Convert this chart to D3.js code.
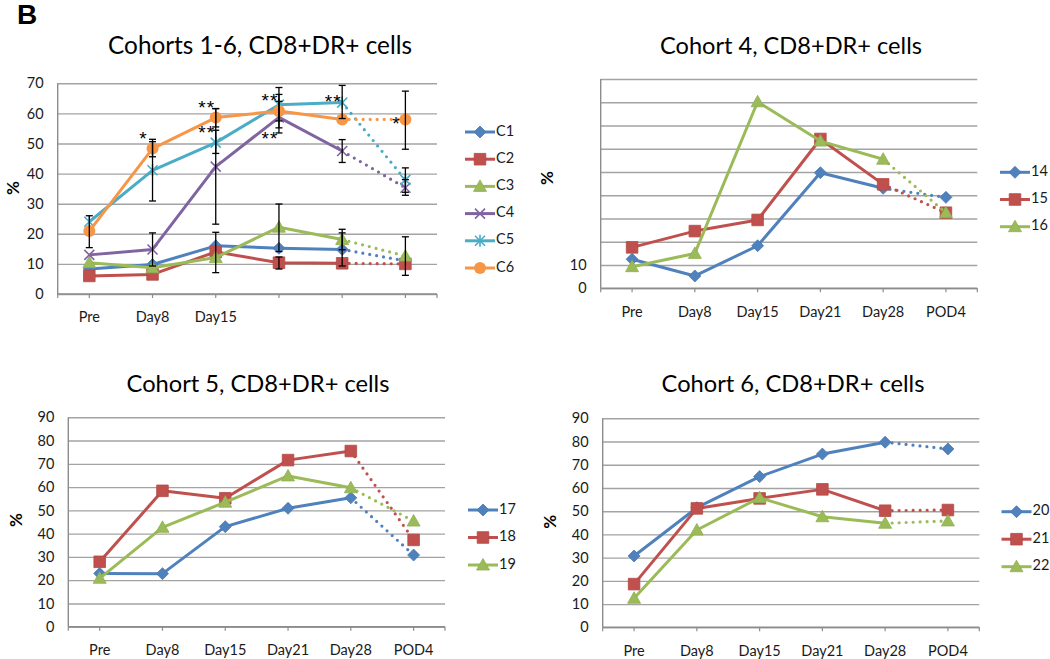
<!DOCTYPE html>
<html>
<head>
<meta charset="utf-8">
<script src="https://cdn.jsdelivr.net/npm/d3@7"></script>
<style>
  html, body { margin: 0; padding: 0; background: #fff; }
  svg { display: block; font-family: Lato, "Open Sans", sans-serif; }
</style>
</head>
<body>
<svg id="chart" width="1050" height="659"></svg>
<script>
// ---------------- data ----------------
const categories = ["Pre", "Day8", "Day15", "Day21", "Day28", "POD4"];
const panel1AxisLabels = ["Pre", "Day8", "Day15", "", "", ""];

// Cohorts 1-6 (group means)
const c1 = [8.3, 9.8, 16.0, 15.2, 14.8, 11.0];
const c2 = [6.0, 6.5, 14.0, 10.4, 10.2, 10.0];
const c3 = [10.4, 8.7, 12.1, 22.2, 18.1, 12.6];
const c4 = [13.0, 14.8, 42.3, 58.7, 47.5, 35.3];
const c5 = [24.0, 41.1, 50.3, 62.9, 63.6, 37.9];
const c6 = [20.9, 48.3, 58.6, 60.8, 58.0, 58.0];
const c1to6Names = ["C1", "C2", "C3", "C4", "C5", "C6"];

// error bars: [category index, low, high]
const errorBars = [
  [0, 15.4, 26.0],
  [1, 30.9, 51.4], [1, 45.6, 50.6], [1, 9.3, 20.3],
  [2, 23.2, 61.6], [2, 46.7, 54.4], [2, 55.5, 61.6], [2, 7.1, 20.5],
  [3, 57.5, 68.6], [3, 53.5, 64.0], [3, 55.2, 66.3], [3, 14.1, 29.9], [3, 8.3, 12.3],
  [4, 58.3, 69.3], [4, 43.7, 51.3], [4, 14.7, 21.5], [4, 9.3, 20.3],
  [5, 48.1, 67.4], [5, 33.8, 41.9], [5, 32.8, 38.0], [5, 6.2, 19.0]
];
// significance marks: [category index, value level, text]
const starMarks = [
  [1, 53.1, "*"],
  [2, 63.5, "**"], [2, 55.0, "**"],
  [3, 65.7, "**"], [3, 53.1, "**"],
  [4, 65.3, "**"],
  [5, 58.0, "*"]
];

// Cohort 4
const p14 = [12.5, 5.3, 18.3, 49.7, 43.0, 39.1];
const p15 = [17.6, 24.6, 29.4, 64.2, 44.7, 32.5];
const p16 = [9.3, 15.0, 80.2, 63.3, 55.5, 32.5];
const cohort4Names = ["14", "15", "16"];
const cohort4TickLabels = ["0", "10"];

// Cohort 5
const p17 = [22.9, 22.8, 43.0, 50.9, 55.4, 30.8];
const p18 = [27.9, 58.4, 55.2, 71.6, 75.5, 37.3];
const p19 = [20.8, 42.7, 53.5, 64.8, 59.7, 45.4];
const cohort5Names = ["17", "18", "19"];

// Cohort 6
const p20 = [30.7, 51.5, 64.9, 74.6, 79.7, 76.8];
const p21 = [18.6, 51.2, 55.5, 59.4, 50.2, 50.5];
const p22 = [12.5, 41.9, 55.8, 47.6, 44.8, 45.8];
const cohort6Names = ["20", "21", "22"];

const titles = [
  "Cohorts 1-6, CD8+DR+ cells",
  "Cohort 4, CD8+DR+ cells",
  "Cohort 5, CD8+DR+ cells",
  "Cohort 6, CD8+DR+ cells"
];

// ---------------- style ----------------
const COLORS = {
  blue: "#4F81BD", red: "#C0504D", green: "#9BBB59",
  purple: "#8064A2", teal: "#4BACC6", orange: "#F79646"
};
const GRID = "#a3a3a3";
const AXIS = "#8c8c8c";
const TEXT = "#1a1a1a";

const svg = d3.select("#chart");

// "B" panel label
svg.append("text").attr("x", 17).attr("y", 24)
  .attr("font-family", "Liberation Sans, Arial, sans-serif")
  .attr("font-weight", "bold").attr("font-size", 28).attr("fill", "#000")
  .text("B");

function markerPath(g, type, color) {
  switch (type) {
    case "diamond":
      g.append("path").attr("d", "M0,-6L6,0L0,6L-6,0Z").attr("fill", color)
        .attr("stroke", d3.color(color).darker(0.2)).attr("stroke-width", 0.8);
      break;
    case "square":
      g.append("path").attr("d", "M-5.8,-5.8H5.8V5.8H-5.8Z").attr("fill", color)
        .attr("stroke", d3.color(color).darker(0.2)).attr("stroke-width", 0.8);
      break;
    case "triangle":
      g.append("path").attr("d", "M0,-6.5L6.5,5L-6.5,5Z").attr("fill", color)
        .attr("stroke", d3.color(color).darker(0.2)).attr("stroke-width", 0.8);
      break;
    case "circle":
      g.append("circle").attr("r", 6).attr("fill", color);
      break;
    case "x":
      g.append("path").attr("d", "M-5,-5L5,5M-5,5L5,-5").attr("stroke", color)
        .attr("stroke-width", 1.6).attr("fill", "none");
      break;
    case "asterisk":
      g.append("path").attr("d", "M-5,-5L5,5M-5,5L5,-5M0,-6V6").attr("stroke", color)
        .attr("stroke-width", 1.6).attr("fill", "none");
      break;
  }
}

function fitFont(textSel, baseSize, targetWidth) {
  textSel.attr("font-size", baseSize);
  const w = textSel.node().getComputedTextLength();
  textSel.attr("font-size", baseSize * targetWidth / w);
}

function drawPanel(cfg) {
  const g = svg.append("g");
  const x = d3.scaleBand().domain(categories).range([cfg.left, cfg.right]);
  const cx = c => x(c) + x.bandwidth() / 2;
  const y = d3.scaleLinear().domain([0, cfg.max]).range([cfg.bottom, cfg.top]);

  // title
  const t = g.append("text").attr("x", cfg.titleX).attr("y", cfg.titleY)
    .attr("text-anchor", "middle").attr("fill", "#000").text(cfg.title);
  fitFont(t, 26, cfg.titleW);

  // y axis with gridlines
  const yAxis = d3.axisLeft(y)
    .tickValues(d3.range(0, cfg.max + 1, 10))
    .tickSize(-(cfg.right - cfg.left))
    .tickPadding(14)
    .tickFormat(d => cfg.yLabels ? (cfg.yLabels.includes(String(d)) ? String(d) : "") : String(d));
  const ya = g.append("g").attr("transform", `translate(${cfg.left},0)`).call(yAxis);
  ya.select(".domain").remove();
  ya.selectAll(".tick line").attr("stroke", GRID).attr("stroke-width", 1.4);
  ya.selectAll(".tick text").attr("font-size", 14.5).attr("fill", TEXT)
    .attr("font-family", "Lato, sans-serif");

  // x axis
  const xAxis = d3.axisBottom(x).tickSize(4).tickPadding(14)
    .tickFormat((d, i) => cfg.xLabels[i]);
  const xa = g.append("g").attr("transform", `translate(0,${cfg.bottom})`).call(xAxis);
  xa.select(".domain").remove();
  xa.selectAll(".tick line").attr("stroke", AXIS).attr("stroke-width", 1.2);
  xa.selectAll(".tick text").attr("font-size", 14.5).attr("fill", TEXT)
    .attr("font-family", "Lato, sans-serif");
  // edge ticks + axis lines
  [cfg.left, cfg.right].forEach(px => {
    g.append("line").attr("x1", px).attr("x2", px).attr("y1", cfg.bottom).attr("y2", cfg.bottom + 4)
      .attr("stroke", AXIS).attr("stroke-width", 1.2);
  });
  g.append("line").attr("x1", cfg.left).attr("x2", cfg.right)
    .attr("y1", cfg.bottom).attr("y2", cfg.bottom).attr("stroke", AXIS).attr("stroke-width", 1.4);
  g.append("line").attr("x1", cfg.left).attr("x2", cfg.left)
    .attr("y1", cfg.top).attr("y2", cfg.bottom).attr("stroke", AXIS).attr("stroke-width", 1.4);

  // y title
  g.append("text").attr("transform", `translate(${cfg.pctX},${cfg.pctY}) rotate(-90)`)
    .attr("text-anchor", "middle").attr("dominant-baseline", "middle")
    .attr("font-weight", "bold").attr("font-size", 17).attr("fill", "#000")
    .text("%");

  // series
  cfg.series.forEach(s => {
    const pts = s.values.map((v, i) => [cx(categories[i]), y(v)]);
    g.append("path").attr("d", d3.line()(pts.slice(0, 5)))
      .attr("fill", "none").attr("stroke", s.color).attr("stroke-width", 3)
      .attr("stroke-linejoin", "round");
    g.append("path").attr("d", d3.line()(pts.slice(4, 6)))
      .attr("fill", "none").attr("stroke", s.color).attr("stroke-width", 3.2)
      .attr("stroke-linecap", "round").attr("stroke-dasharray", "0,7");
    pts.forEach(p => {
      const mg = g.append("g").attr("transform", `translate(${p[0]},${p[1]})`);
      markerPath(mg, s.marker, s.color);
    });
  });

  // error bars
  if (cfg.errors) {
    cfg.errors.forEach(e => {
      const px = cx(categories[e[0]]);
      const eg = g.append("g").attr("stroke", "#000").attr("stroke-width", 1.3);
      eg.append("line").attr("x1", px).attr("x2", px).attr("y1", y(e[1])).attr("y2", y(e[2]));
      eg.append("line").attr("x1", px - 3.5).attr("x2", px + 3.5).attr("y1", y(e[1])).attr("y2", y(e[1]));
      eg.append("line").attr("x1", px - 3.5).attr("x2", px + 3.5).attr("y1", y(e[2])).attr("y2", y(e[2]));
    });
  }
  if (cfg.stars) {
    cfg.stars.forEach(s => {
      g.append("text").attr("x", cx(categories[s[0]]) - 9).attr("y", y(s[1]) + 11)
        .attr("text-anchor", "middle").attr("font-size", 19).attr("letter-spacing", 1)
        .attr("font-family", "Liberation Sans, Arial, sans-serif")
        .attr("fill", "#000").text(s[2]);
    });
  }

  // legend
  cfg.series.forEach((s, i) => {
    const ly = cfg.legY + i * cfg.legStep;
    g.append("line").attr("x1", cfg.legX).attr("x2", cfg.legX + 30)
      .attr("y1", ly).attr("y2", ly).attr("stroke", s.color).attr("stroke-width", 3);
    const mg = g.append("g").attr("transform", `translate(${cfg.legX + 15},${ly})`);
    markerPath(mg, s.marker, s.color);
    g.append("text").attr("x", cfg.legX + 31).attr("y", ly)
      .attr("dominant-baseline", "middle").attr("font-size", 14.5).attr("fill", TEXT)
      .text(s.name);
  });
}

const markers6 = ["diamond", "square", "triangle", "x", "asterisk", "circle"];
const colors6 = [COLORS.blue, COLORS.red, COLORS.green, COLORS.purple, COLORS.teal, COLORS.orange];
const colors3 = [COLORS.blue, COLORS.red, COLORS.green];
const markers3 = ["diamond", "square", "triangle"];

function mk(names, vals, colors, marks) {
  return vals.map((v, i) => ({ name: names[i], values: v, color: colors[i], marker: marks[i] }));
}

drawPanel({
  title: titles[0], titleX: 260, titleY: 54, titleW: 304,
  left: 57.7, right: 437, top: 83.3, bottom: 294, max: 70,
  xLabels: panel1AxisLabels, pctX: 15, pctY: 188,
  legX: 465, legY: 132, legStep: 27.2,
  series: mk(c1to6Names, [c1, c2, c3, c4, c5, c6], colors6, markers6),
  errors: errorBars, stars: starMarks
});
drawPanel({
  title: titles[1], titleX: 791, titleY: 54, titleW: 262,
  left: 600.7, right: 977.3, top: 79, bottom: 288.3, max: 90,
  xLabels: categories, yLabels: cohort4TickLabels, pctX: 549, pctY: 178,
  legX: 1000, legY: 172.3, legStep: 27.2,
  series: mk(cohort4Names, [p14, p15, p16], colors3, markers3)
});
drawPanel({
  title: titles[2], titleX: 258, titleY: 392, titleW: 263,
  left: 68.3, right: 445, top: 417.3, bottom: 626.7, max: 90,
  xLabels: categories, pctX: 18, pctY: 520,
  legX: 468, legY: 510, legStep: 27.5,
  series: mk(cohort5Names, [p17, p18, p19], colors3, markers3)
});
drawPanel({
  title: titles[3], titleX: 793, titleY: 392, titleW: 263,
  left: 602.7, right: 979.3, top: 418.3, bottom: 627.3, max: 90,
  xLabels: categories, pctX: 551.7, pctY: 521.7,
  legX: 1001.5, legY: 511.7, legStep: 27.5,
  series: mk(cohort6Names, [p20, p21, p22], colors3, markers3)
});
</script>
</body>
</html>
